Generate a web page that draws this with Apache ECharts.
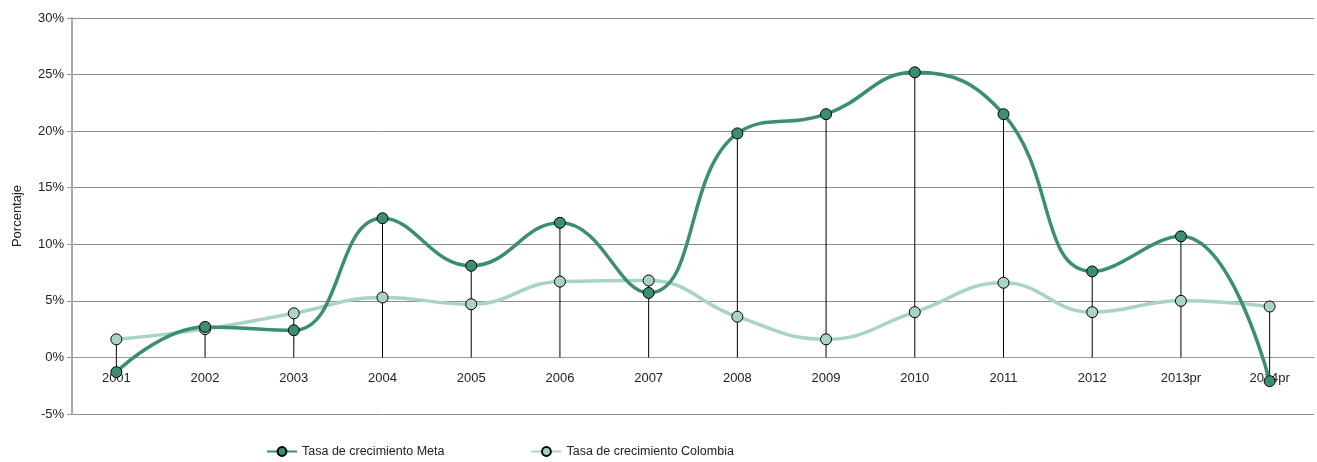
<!DOCTYPE html>
<html>
<head>
<meta charset="utf-8">
<script src="https://cdn.jsdelivr.net/npm/echarts@6/dist/echarts.min.js"></script>
<style>
  html, body { margin: 0; padding: 0; background: #fff; }
  #chart { width: 1317px; height: 462px; }
</style>
</head>
<body>
<div id="chart"></div>
<script>
const years = ['2001', '2002', '2003', '2004', '2005', '2006', '2007', '2008', '2009', '2010', '2011', '2012', '2013pr', '2014pr']
const meta = [-1.3, 2.7, 2.4, 12.3, 8.1, 11.9, 5.7, 19.8, 21.5, 25.2, 21.5, 7.6, 10.7, -2.1]
const colombia = [1.6, 2.5, 3.9, 5.3, 4.7, 6.7, 6.8, 3.6, 1.6, 4.0, 6.6, 4.0, 5.0, 4.5]

const darkGreen = '#3b8f6f'
const lightGreen = '#a9d4c1'
const fontFamily = 'Liberation Sans, Arial, sans-serif'

// drop lines: from highest point down to the axis (or lowest point if below zero)
const dropData = years.map((y, i) => [
  i,
  Math.max(meta[i], colombia[i], 0),
  Math.min(meta[i], colombia[i], 0)
])

const chart = echarts.init(document.getElementById('chart'))
chart.setOption({
  animation: false,
  textStyle: { fontFamily: fontFamily },
  grid: {
    left: 72,
    right: 3,
    top: 18,
    bottom: 48,
    outerBoundsMode: 'none'
  },
  legend: {
    bottom: -1,
    left: 261,
    itemWidth: 30,
    itemHeight: 11,
    itemGap: 86,
    data: ['Tasa de crecimiento Meta', 'Tasa de crecimiento Colombia'],
    textStyle: { fontSize: 12.5, color: '#222', fontFamily: fontFamily }
  },
  xAxis: {
    type: 'category',
    data: years,
    boundaryGap: true,
    offset: -57, // Excel draws the category axis at 0%
    axisLine: { onZero: false, lineStyle: { color: '#999', width: 1 } },
    axisTick: { show: false },
    axisLabel: { color: '#222', fontSize: 13, margin: 15 },
    splitLine: { show: false }
  },
  yAxis: {
    type: 'value',
    min: -5,
    max: 30,
    interval: 5,
    name: 'Porcentaje',
    nameLocation: 'middle',
    nameGap: 48,
    nameTextStyle: { color: '#222', fontSize: 13 },
    axisLine: { show: true, lineStyle: { color: '#aaa', width: 2 } },
    axisTick: { show: true, length: 5, lineStyle: { color: '#999' } },
    axisLabel: { color: '#222', fontSize: 13, margin: 8, formatter: '{value}%' },
    splitLine: { lineStyle: { color: '#8c8c8c', width: 1 } }
  },
  series: [
    {
      type: 'custom',
      name: 'drop',
      z: 1,
      silent: true,
      data: dropData,
      renderItem: function (params, api) {
        const top = api.coord([api.value(0), api.value(1)])
        const bottom = api.coord([api.value(0), api.value(2)])
        return {
          type: 'line',
          shape: { x1: top[0], y1: top[1], x2: bottom[0], y2: bottom[1] },
          style: { stroke: '#000', lineWidth: 1 }
        }
      }
    },
    {
      name: 'Tasa de crecimiento Meta',
      type: 'line',
      z: 3,
      smooth: 0.45,
      data: meta,
      symbol: 'circle',
      symbolSize: 11,
      lineStyle: { color: darkGreen, width: 3.5 },
      itemStyle: { color: darkGreen, borderColor: '#000', borderWidth: 1 }
    },
    {
      name: 'Tasa de crecimiento Colombia',
      type: 'line',
      z: 2,
      smooth: 0.45,
      data: colombia,
      symbol: 'circle',
      symbolSize: 11,
      lineStyle: { color: lightGreen, width: 3.5 },
      itemStyle: { color: lightGreen, borderColor: '#000', borderWidth: 1 }
    }
  ]
})
</script>
</body>
</html>
